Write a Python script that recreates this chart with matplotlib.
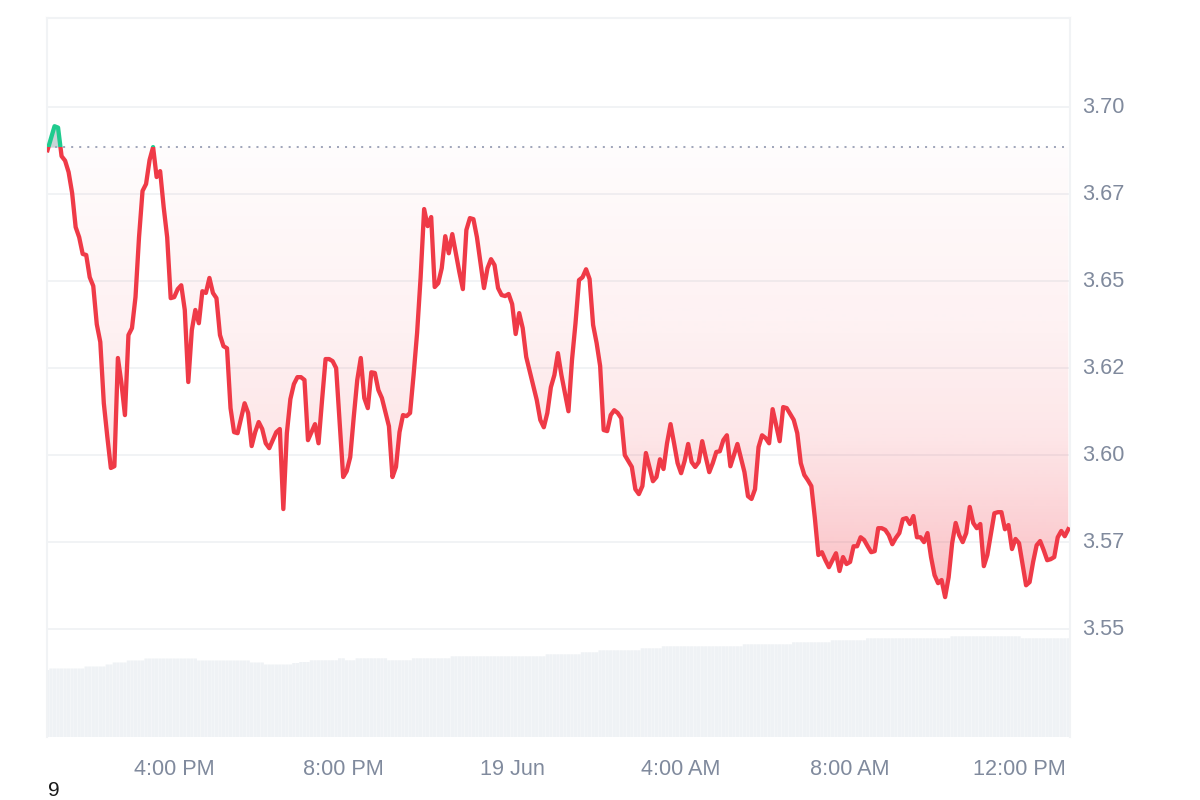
import numpy as np
import matplotlib
matplotlib.use("Agg")
import matplotlib.pyplot as plt
from matplotlib.patches import Polygon, Rectangle
from matplotlib.transforms import ScaledTranslation

plt.rcParams['font.family'] = ['Liberation Sans', 'DejaVu Sans']

# 5 minute prices, first point is about 1pm on 18 Jun
prices = [
    3.6876, 3.6910, 3.6945, 3.6941, 3.6859, 3.6846, 3.6813, 3.6753, 3.6655, 3.6626,
    3.6578, 3.6575, 3.6511, 3.6486, 3.6376, 3.6325, 3.6149, 3.6052, 3.5963, 3.5968,
    3.6279, 3.6207, 3.6115, 3.6345, 3.6365, 3.6454, 3.6626, 3.6759, 3.6779, 3.6848,
    3.6885, 3.6799, 3.6816, 3.6713, 3.6626, 3.6451, 3.6454, 3.6477, 3.6488, 3.6417,
    3.6210, 3.6359, 3.6417, 3.6379, 3.6471, 3.6466, 3.6509, 3.6466, 3.6451, 3.6345,
    3.6313, 3.6307, 3.6135, 3.6066, 3.6063, 3.6106, 3.6149, 3.6121, 3.6026, 3.6066,
    3.6095, 3.6075, 3.6034, 3.6020, 3.6043, 3.6066, 3.6075, 3.5845, 3.6063, 3.6161,
    3.6204, 3.6224, 3.6224, 3.6216, 3.6043, 3.6066, 3.6089, 3.6034, 3.6158, 3.6276,
    3.6276, 3.6270, 3.6250, 3.6092, 3.5937, 3.5954, 3.5994, 3.6109, 3.6216, 3.6279,
    3.6164, 3.6135, 3.6238, 3.6236, 3.6187, 3.6164, 3.6124, 3.6083, 3.5937, 3.5966,
    3.6066, 3.6115, 3.6112, 3.6121, 3.6230, 3.6351, 3.6511, 3.6707, 3.6658, 3.6684,
    3.6483, 3.6494, 3.6537, 3.6629, 3.6580, 3.6635, 3.6580, 3.6526, 3.6477, 3.6647,
    3.6681, 3.6678, 3.6626, 3.6552, 3.6480, 3.6537, 3.6563, 3.6546, 3.6480, 3.6460,
    3.6457, 3.6463, 3.6434, 3.6348, 3.6408, 3.6365, 3.6282, 3.6241, 3.6201, 3.6158,
    3.6101, 3.6080, 3.6121, 3.6195, 3.6230, 3.6293, 3.6230, 3.6178, 3.6126, 3.6273,
    3.6379, 3.6503, 3.6511, 3.6534, 3.6506, 3.6374, 3.6322, 3.6256, 3.6072, 3.6069,
    3.6115, 3.6129, 3.6121, 3.6106, 3.6000, 3.5983, 3.5966, 3.5902, 3.5888, 3.5911,
    3.6006, 3.5966, 3.5925, 3.5937, 3.5988, 3.5960, 3.6034, 3.6089, 3.6034, 3.5977,
    3.5948, 3.5983, 3.6032, 3.5980, 3.5966, 3.5980, 3.6040, 3.5994, 3.5951, 3.5977,
    3.6009, 3.6011, 3.6043, 3.6057, 3.5968, 3.6000, 3.6032, 3.5991, 3.5951, 3.5882,
    3.5874, 3.5902, 3.6023, 3.6057, 3.6049, 3.6034, 3.6132, 3.6086, 3.6040, 3.6138,
    3.6135, 3.6118, 3.6101, 3.6063, 3.5977, 3.5943, 3.5928, 3.5911, 3.5819, 3.5713,
    3.5721, 3.5698, 3.5678, 3.5698, 3.5718, 3.5667, 3.5707, 3.5687, 3.5693, 3.5738,
    3.5738, 3.5764, 3.5756, 3.5738, 3.5721, 3.5724, 3.5790, 3.5790, 3.5785, 3.5770,
    3.5744, 3.5762, 3.5776, 3.5816, 3.5819, 3.5802, 3.5825, 3.5764, 3.5764, 3.5750,
    3.5776, 3.5707, 3.5655, 3.5632, 3.5641, 3.5592, 3.5649, 3.5747, 3.5805, 3.5770,
    3.5750, 3.5776, 3.5851, 3.5805, 3.5790, 3.5802, 3.5681, 3.5713, 3.5773, 3.5833,
    3.5836, 3.5836, 3.5787, 3.5799, 3.5730, 3.5759, 3.5747, 3.5687, 3.5626, 3.5635,
    3.5693, 3.5741, 3.5753, 3.5727, 3.5698, 3.5701, 3.5707, 3.5764, 3.5782, 3.5767,
    3.5787,
]
baseline_price = 3.6885

# volume comes in flat steps: how many bars, then the level
vol_counts = [1, 10, 6, 2, 4, 5, 15, 15, 4, 8, 2, 3, 8, 2, 3, 9, 7, 11, 27, 10, 5, 12, 6, 23, 14, 11, 10, 24, 20, 14]
vol_levels = [67, 68.5, 70.5, 72.5, 74.5, 76.5, 78.5, 76.5, 74.5, 72.5, 74, 75, 76.7, 78.7, 76.7, 78.7, 76.7, 78.7,
              80.7, 82.7, 84.7, 86.7, 88.7, 90.7, 92.7, 94.7, 96.7, 98.7, 100.7, 98.7]

xtick_minutes = [180, 420, 660, 900, 1140, 1380]
xtick_labels = ['4:00 PM', '8:00 PM', '19 Jun', '4:00 AM', '8:00 AM', '12:00 PM']
ytick_values = [3.55, 3.575, 3.60, 3.625, 3.65, 3.675, 3.70]
ytick_labels = ['3.55', '3.57', '3.60', '3.62', '3.65', '3.67', '3.70']

# alpha of the red fill at a few prices
fill_prices = [3.55, 3.5705, 3.5905, 3.6065, 3.6355, 3.6785, 3.6885]
fill_alphas = [0.36, 0.27, 0.18, 0.12, 0.07, 0.025, 0.012]

RED = '#ef3a47'
GREEN = '#1fcb8e'
GRID = '#f1f3f5'
LABEL = '#808a9d'

prices = np.array(prices)
minutes = np.arange(len(prices)) * 5
volumes = np.repeat(vol_levels, vol_counts)
xlim = (-0.7, 1452.4)
ylim = (3.5190, 3.7256)

fig = plt.figure(figsize=(12, 8), dpi=100, facecolor='white')
rect = [47 / 1200, 63 / 800, 1023 / 1200, 719 / 800]

# volume bars sit on their own axes behind the price
ax_vol = fig.add_axes(rect)
bars = ax_vol.bar(minutes, volumes, width=4.7, color='#eff2f5', linewidth=0)
for b in bars:
    b.set_snap(False)
ax_vol.set_xlim(xlim)
ax_vol.set_ylim(0, 719)
ax_vol.axis('off')

ax = fig.add_axes(rect, facecolor='none')
ax.set_xlim(xlim)
ax.set_ylim(ylim)

for y in ytick_values:
    ax.axhline(y, color=GRID, lw=1.4, zorder=1)

# gradient under the baseline, clipped to the area between baseline and price
grad_y = np.linspace(ylim[0], ylim[1], 720)
grad = np.zeros((len(grad_y), 1, 4))
grad[..., 0] = 240 / 255
grad[..., 1] = 50 / 255
grad[..., 2] = 65 / 255
grad[:, 0, 3] = np.interp(grad_y, fill_prices, fill_alphas)
img = ax.imshow(grad, extent=(xlim[0], xlim[1], ylim[0], ylim[1]), origin='lower', aspect='auto', zorder=2)
lower = np.minimum(prices, baseline_price)
verts = np.column_stack([np.r_[minutes, minutes[::-1]],
                         np.r_[lower, np.full(len(minutes), baseline_price)]])
clip_poly = Polygon(verts, closed=True, transform=ax.transData)
img.set_clip_path(clip_poly)

ax.fill_between(minutes, baseline_price, prices, where=prices > baseline_price,
                interpolate=True, color='#c9d4d6', linewidth=0, zorder=2)

ax.axhline(baseline_price, color='#a1a7bb', lw=1.45, ls=(0, (1, 3)), zorder=3)

# same line twice, red under the baseline and green over it
line_red, = ax.plot(minutes, prices, color=RED, lw=3.1, zorder=4, solid_joinstyle='round')
line_red.set_clip_path(Rectangle((xlim[0], ylim[0]), xlim[1] - xlim[0], baseline_price - ylim[0], transform=ax.transData))
line_green, = ax.plot(minutes, prices, color=GREEN, lw=3.1, zorder=4, solid_joinstyle='round')
line_green.set_clip_path(Rectangle((xlim[0], baseline_price), xlim[1] - xlim[0], ylim[1] - baseline_price, transform=ax.transData))

ax.set_xticks(xtick_minutes)
ax.set_xticklabels(xtick_labels)
ax.set_yticks(ytick_values)
ax.set_yticklabels(ytick_labels)
ax.yaxis.tick_right()
ax.tick_params(axis='x', length=0, pad=16, labelsize=15.6, labelcolor=LABEL)
ax.tick_params(axis='y', length=0, pad=8.5, labelsize=15.6, labelcolor=LABEL)

# nudge the price labels up a little so they sit centred on the grid lines
nudge = ScaledTranslation(0, 2 / 100, fig.dpi_scale_trans)
for label in ax.yaxis.get_majorticklabels():
    label.set_transform(label.get_transform() + nudge)

for side in ['left', 'right', 'top']:
    ax.spines[side].set_color(GRID)
    ax.spines[side].set_linewidth(1.5)
ax.spines['bottom'].set_visible(False)

fig.text(48 / 1200, 1 - 790.5 / 800, '9', fontsize=15, color='#1a1a1a', va='center', ha='left')

fig.savefig('out.png', dpi=100)
